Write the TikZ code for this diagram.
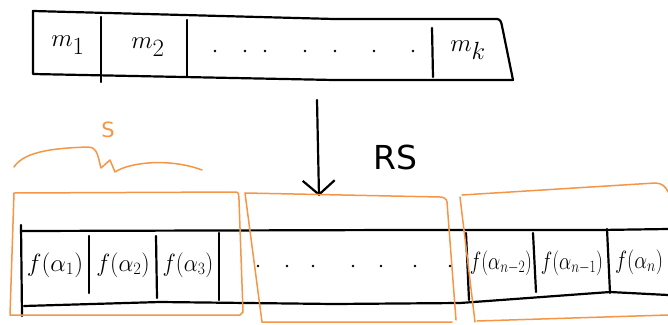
\documentclass[tikz,border=0pt]{standalone}
\usepackage{fontspec}
\usepackage{graphicx}
\setsansfont{DejaVu Sans}
\usetikzlibrary{arrows.meta}
\definecolor{sketchorange}{RGB}{245,150,70}
\tikzset{
  ink/.style={draw=black,line width=2.2pt,line cap=round,line join=round},
  orangeink/.style={draw=sketchorange,line width=1.5pt,line cap=round,line join=round},
  dotmark/.style={circle,fill=black,inner sep=0pt,minimum size=2.6pt},
  bigcell/.style={inner sep=0pt,font=\fontsize{38}{38}\selectfont},
  fcell/.style={inner sep=0pt,font=\fontsize{25}{25}\selectfont},
  lbl/.style={inner sep=0pt}
}
\begin{document}
\begin{tikzpicture}[x=1pt,y=-1pt]
\useasboundingbox (0,0) rectangle (668,324);
% top box
\draw[ink] (33,11) -- (334,19) -- (497,19) to[out=0,in=100] (502,26) -- (513,80) -- (500,80) -- (334,80) -- (33,74) -- cycle;
\draw[ink] (101,17) -- (101,82);
\draw[ink] (187,20) -- (187,76);
\draw[ink] (432,28) -- (433,77);
\node[bigcell] (m1) at (68,45) {$m_{1}$};
\node[bigcell] (m2) at (148,47) {$m_{2}$};
\node[bigcell] (mk) at (468,50) {$m_{k}$};
\foreach \x [count=\i] in {215,245,265,305,335,374,413} \node[dotmark] (td\i) at (\x,51) {};
% arrow
\coordinate (arrowtop) at (317,100);
\coordinate (arrowtip) at (319,196);
\draw[ink,-{Straight Barb[length=14pt,width=32pt,line width=2.2pt]}] (arrowtop) -- (arrowtip);
\node[lbl,font=\sffamily\fontsize{33}{33}\selectfont] (rs) at (395,157) {RS};
% brace and S
\node[lbl,text=sketchorange,font=\sffamily\fontsize{21}{21}\selectfont] (s) at (108,130) {S};
\draw[orangeink] (14,167) .. controls (25,150) and (60,148) .. (88,147) .. controls (98,147) and (98,158) .. (101,168) -- (110,160) -- (115,172) .. controls (130,162) and (170,158) .. (202,170);
% bottom strip
\clip (0,0) rectangle (668,324);
\draw[ink] (21,231) -- (400,230) -- (600,230) -- (668,229);
\draw[ink] (24,306) -- (160,302) -- (334,304) -- (460,303) -- (610,292) -- (668,295);
\draw[ink] (21,225) -- (22,316);
\draw[ink] (89,236) -- (89,293);
\draw[ink] (156,236) -- (157,298);
\draw[ink] (219,233) -- (219,300);
\draw[ink] (466,233) -- (469,300);
\draw[ink] (533,233) -- (536,292);
\draw[ink] (607,229) -- (610,293);
\node[fcell] (f1) at (55,265) {$f(\alpha_{1})$};
\node[fcell] (f2) at (123,265) {\scalebox{0.95}[1]{$f(\alpha_{2})$}};
\node[fcell] (f3) at (188,265) {\scalebox{0.9}[1]{$f(\alpha_{3})$}};
\node[fcell] (fn2) at (501,263) {\scalebox{0.78}[1]{$f(\alpha_{n-2})$}};
\node[fcell] (fn1) at (572,263) {\scalebox{0.78}[1]{$f(\alpha_{n-1})$}};
\node[fcell,anchor=west] (fn) at (615,262) {\scalebox{0.82}[1]{$f(\alpha_{n})$}};
\foreach \x [count=\i] in {258,287,313,353,381,415,450} \node[dotmark] (bd\i) at (\x,266) {};
% orange groups
\draw[orangeink] (14,193) -- (236,192) to[out=0,in=95] (239,200) -- (243,312) -- (240,315) -- (10,315) -- cycle;
\draw[orangeink] (245,193) -- (440,197) to[out=0,in=95] (447,202) -- (456,320);
\draw[orangeink] (245,193) -- (262,322) -- (452,322);
\draw[orangeink] (460,197) -- (475,322);
\draw[orangeink] (462,195) -- (655,183) to[out=0,in=110] (668,192);
\draw[orangeink] (477,321) -- (668,315);
\end{tikzpicture}
\end{document}
